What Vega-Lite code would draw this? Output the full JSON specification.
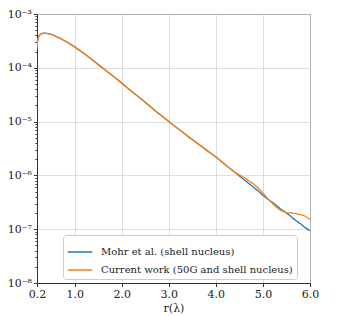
{
  "$schema": "https://vega.github.io/schema/vega-lite/v6.json",
  "autosize": "none",
  "width": 273,
  "height": 269,
  "padding": {"left": 37, "top": 14, "right": 28, "bottom": 33},
  "background": "white",
  "config": {
    "view": {"stroke": "#333333", "strokeWidth": 1},
    "font": "DejaVu Serif"
  },
  "data": {
    "values": [
      {"r": 0.2, "v": 2.29e-4, "s": "Mohr et al. (shell nucleus)"},
      {"r": 0.21, "v": 3.02e-4, "s": "Mohr et al. (shell nucleus)"},
      {"r": 0.23, "v": 3.63e-4, "s": "Mohr et al. (shell nucleus)"},
      {"r": 0.25, "v": 3.98e-4, "s": "Mohr et al. (shell nucleus)"},
      {"r": 0.3, "v": 4.32e-4, "s": "Mohr et al. (shell nucleus)"},
      {"r": 0.35, "v": 4.42e-4, "s": "Mohr et al. (shell nucleus)"},
      {"r": 0.4, "v": 4.37e-4, "s": "Mohr et al. (shell nucleus)"},
      {"r": 0.5, "v": 4.17e-4, "s": "Mohr et al. (shell nucleus)"},
      {"r": 0.6, "v": 3.85e-4, "s": "Mohr et al. (shell nucleus)"},
      {"r": 0.7, "v": 3.51e-4, "s": "Mohr et al. (shell nucleus)"},
      {"r": 0.8, "v": 3.13e-4, "s": "Mohr et al. (shell nucleus)"},
      {"r": 0.9, "v": 2.79e-4, "s": "Mohr et al. (shell nucleus)"},
      {"r": 1.0, "v": 2.45e-4, "s": "Mohr et al. (shell nucleus)"},
      {"r": 1.2, "v": 1.84e-4, "s": "Mohr et al. (shell nucleus)"},
      {"r": 1.4, "v": 1.35e-4, "s": "Mohr et al. (shell nucleus)"},
      {"r": 1.6, "v": 9.77e-5, "s": "Mohr et al. (shell nucleus)"},
      {"r": 1.8, "v": 7.16e-5, "s": "Mohr et al. (shell nucleus)"},
      {"r": 2.0, "v": 5.19e-5, "s": "Mohr et al. (shell nucleus)"},
      {"r": 2.2, "v": 3.72e-5, "s": "Mohr et al. (shell nucleus)"},
      {"r": 2.4, "v": 2.69e-5, "s": "Mohr et al. (shell nucleus)"},
      {"r": 2.6, "v": 1.93e-5, "s": "Mohr et al. (shell nucleus)"},
      {"r": 2.8, "v": 1.38e-5, "s": "Mohr et al. (shell nucleus)"},
      {"r": 3.0, "v": 1.0e-5, "s": "Mohr et al. (shell nucleus)"},
      {"r": 3.2, "v": 7.33e-6, "s": "Mohr et al. (shell nucleus)"},
      {"r": 3.4, "v": 5.37e-6, "s": "Mohr et al. (shell nucleus)"},
      {"r": 3.6, "v": 3.98e-6, "s": "Mohr et al. (shell nucleus)"},
      {"r": 3.8, "v": 2.95e-6, "s": "Mohr et al. (shell nucleus)"},
      {"r": 4.0, "v": 2.19e-6, "s": "Mohr et al. (shell nucleus)"},
      {"r": 4.2, "v": 1.58e-6, "s": "Mohr et al. (shell nucleus)"},
      {"r": 4.4, "v": 1.15e-6, "s": "Mohr et al. (shell nucleus)"},
      {"r": 4.5, "v": 9.77e-7, "s": "Mohr et al. (shell nucleus)"},
      {"r": 4.6, "v": 8.32e-7, "s": "Mohr et al. (shell nucleus)"},
      {"r": 4.7, "v": 7.08e-7, "s": "Mohr et al. (shell nucleus)"},
      {"r": 4.8, "v": 6.03e-7, "s": "Mohr et al. (shell nucleus)"},
      {"r": 4.9, "v": 5.13e-7, "s": "Mohr et al. (shell nucleus)"},
      {"r": 5.0, "v": 4.27e-7, "s": "Mohr et al. (shell nucleus)"},
      {"r": 5.1, "v": 3.63e-7, "s": "Mohr et al. (shell nucleus)"},
      {"r": 5.2, "v": 3.16e-7, "s": "Mohr et al. (shell nucleus)"},
      {"r": 5.3, "v": 2.69e-7, "s": "Mohr et al. (shell nucleus)"},
      {"r": 5.4, "v": 2.29e-7, "s": "Mohr et al. (shell nucleus)"},
      {"r": 5.5, "v": 2.0e-7, "s": "Mohr et al. (shell nucleus)"},
      {"r": 5.6, "v": 1.70e-7, "s": "Mohr et al. (shell nucleus)"},
      {"r": 5.7, "v": 1.45e-7, "s": "Mohr et al. (shell nucleus)"},
      {"r": 5.8, "v": 1.26e-7, "s": "Mohr et al. (shell nucleus)"},
      {"r": 5.9, "v": 1.07e-7, "s": "Mohr et al. (shell nucleus)"},
      {"r": 6.0, "v": 9.33e-8, "s": "Mohr et al. (shell nucleus)"},
      {"r": 0.2, "v": 2.29e-4, "s": "Current work (50G and shell nucleus)"},
      {"r": 0.21, "v": 3.02e-4, "s": "Current work (50G and shell nucleus)"},
      {"r": 0.23, "v": 3.63e-4, "s": "Current work (50G and shell nucleus)"},
      {"r": 0.25, "v": 3.98e-4, "s": "Current work (50G and shell nucleus)"},
      {"r": 0.3, "v": 4.32e-4, "s": "Current work (50G and shell nucleus)"},
      {"r": 0.35, "v": 4.42e-4, "s": "Current work (50G and shell nucleus)"},
      {"r": 0.4, "v": 4.37e-4, "s": "Current work (50G and shell nucleus)"},
      {"r": 0.5, "v": 4.17e-4, "s": "Current work (50G and shell nucleus)"},
      {"r": 0.6, "v": 3.85e-4, "s": "Current work (50G and shell nucleus)"},
      {"r": 0.7, "v": 3.51e-4, "s": "Current work (50G and shell nucleus)"},
      {"r": 0.8, "v": 3.13e-4, "s": "Current work (50G and shell nucleus)"},
      {"r": 0.9, "v": 2.79e-4, "s": "Current work (50G and shell nucleus)"},
      {"r": 1.0, "v": 2.45e-4, "s": "Current work (50G and shell nucleus)"},
      {"r": 1.2, "v": 1.84e-4, "s": "Current work (50G and shell nucleus)"},
      {"r": 1.4, "v": 1.35e-4, "s": "Current work (50G and shell nucleus)"},
      {"r": 1.6, "v": 9.77e-5, "s": "Current work (50G and shell nucleus)"},
      {"r": 1.8, "v": 7.16e-5, "s": "Current work (50G and shell nucleus)"},
      {"r": 2.0, "v": 5.19e-5, "s": "Current work (50G and shell nucleus)"},
      {"r": 2.2, "v": 3.72e-5, "s": "Current work (50G and shell nucleus)"},
      {"r": 2.4, "v": 2.69e-5, "s": "Current work (50G and shell nucleus)"},
      {"r": 2.6, "v": 1.93e-5, "s": "Current work (50G and shell nucleus)"},
      {"r": 2.8, "v": 1.38e-5, "s": "Current work (50G and shell nucleus)"},
      {"r": 3.0, "v": 1.0e-5, "s": "Current work (50G and shell nucleus)"},
      {"r": 3.2, "v": 7.33e-6, "s": "Current work (50G and shell nucleus)"},
      {"r": 3.4, "v": 5.37e-6, "s": "Current work (50G and shell nucleus)"},
      {"r": 3.6, "v": 3.98e-6, "s": "Current work (50G and shell nucleus)"},
      {"r": 3.8, "v": 2.95e-6, "s": "Current work (50G and shell nucleus)"},
      {"r": 4.0, "v": 2.19e-6, "s": "Current work (50G and shell nucleus)"},
      {"r": 4.2, "v": 1.58e-6, "s": "Current work (50G and shell nucleus)"},
      {"r": 4.4, "v": 1.15e-6, "s": "Current work (50G and shell nucleus)"},
      {"r": 4.5, "v": 1.02e-6, "s": "Current work (50G and shell nucleus)"},
      {"r": 4.6, "v": 9.12e-7, "s": "Current work (50G and shell nucleus)"},
      {"r": 4.7, "v": 7.94e-7, "s": "Current work (50G and shell nucleus)"},
      {"r": 4.8, "v": 6.92e-7, "s": "Current work (50G and shell nucleus)"},
      {"r": 4.9, "v": 5.75e-7, "s": "Current work (50G and shell nucleus)"},
      {"r": 5.0, "v": 4.68e-7, "s": "Current work (50G and shell nucleus)"},
      {"r": 5.1, "v": 3.72e-7, "s": "Current work (50G and shell nucleus)"},
      {"r": 5.2, "v": 3.02e-7, "s": "Current work (50G and shell nucleus)"},
      {"r": 5.3, "v": 2.51e-7, "s": "Current work (50G and shell nucleus)"},
      {"r": 5.4, "v": 2.19e-7, "s": "Current work (50G and shell nucleus)"},
      {"r": 5.5, "v": 2.04e-7, "s": "Current work (50G and shell nucleus)"},
      {"r": 5.6, "v": 2.0e-7, "s": "Current work (50G and shell nucleus)"},
      {"r": 5.7, "v": 1.95e-7, "s": "Current work (50G and shell nucleus)"},
      {"r": 5.8, "v": 1.86e-7, "s": "Current work (50G and shell nucleus)"},
      {"r": 5.9, "v": 1.74e-7, "s": "Current work (50G and shell nucleus)"},
      {"r": 6.0, "v": 1.51e-7, "s": "Current work (50G and shell nucleus)"}
    ]
  },
  "mark": {"type": "line", "interpolate": "monotone", "strokeWidth": 1.3, "clip": true},
  "encoding": {
    "x": {
      "field": "r", "type": "quantitative",
      "scale": {"domain": [0.2, 6.0], "nice": false, "zero": false},
      "axis": {
        "values": [0.2, 1, 2, 3, 4, 5, 6],
        "format": ".1f",
        "title": "r(λ)",
        "titleFont": "DejaVu Serif", "titleFontSize": 11, "titleFontWeight": "normal", "titleColor": "#222222",
        "titlePadding": 3,
        "labelFont": "DejaVu Serif", "labelFontSize": 11, "labelColor": "#222222",
        "labelPadding": 2,
        "labelFlush": false,
        "labelOverlap": false,
        "tickSize": 3.5, "tickColor": "#333333",
        "domainColor": "#333333",
        "gridColor": "#d6d6d6", "gridWidth": 0.8
      }
    },
    "y": {
      "field": "v", "type": "quantitative",
      "scale": {"type": "log", "domain": [1e-8, 1e-3], "nice": false},
      "axis": {
        "values": [1e-8,2e-8,3e-8,4e-8,5e-8,6e-8,7e-8,8e-8,9e-8,1e-7,2e-7,3e-7,4e-7,5e-7,6e-7,7e-7,8e-7,9e-7,1e-6,2e-6,3e-6,4e-6,5e-6,6e-6,7e-6,8e-6,9e-6,1e-5,2e-5,3e-5,4e-5,5e-5,6e-5,7e-5,8e-5,9e-5,1e-4,2e-4,3e-4,4e-4,5e-4,6e-4,7e-4,8e-4,9e-4,1e-3],
        "labelExpr": "abs(log(datum.value)/LN10 - round(log(datum.value)/LN10)) < 0.01 ? '10⁻' + ['','¹','²','³','⁴','⁵','⁶','⁷','⁸'][-round(log(datum.value)/LN10)] : ''",
        "title": null,
        "labelFont": "DejaVu Serif", "labelFontSize": 11, "labelColor": "#222222",
        "labelPadding": 2,
        "labelFlush": false,
        "labelOverlap": false,
        "tickColor": "#333333",
        "tickSize": {"condition": {"test": "abs(log(datum.value)/LN10 - round(log(datum.value)/LN10)) < 0.01", "value": 3.5}, "value": 2},
        "gridOpacity": {"condition": {"test": "abs(log(datum.value)/LN10 - round(log(datum.value)/LN10)) < 0.01", "value": 1}, "value": 0},
        "domainColor": "#333333",
        "gridColor": "#d6d6d6", "gridWidth": 0.8
      }
    },
    "color": {
      "field": "s", "type": "nominal",
      "scale": {
        "domain": ["Mohr et al. (shell nucleus)", "Current work (50G and shell nucleus)"],
        "range": ["#1f77b4", "#ff7f0e"]
      },
      "legend": {
        "title": null,
        "orient": "none",
        "legendX": 26,
        "legendY": 221,
        "symbolType": "stroke",
        "symbolSize": 600,
        "symbolStrokeWidth": 1.5,
        "labelFont": "DejaVu Serif",
        "labelFontSize": 10,
        "labelColor": "#222222",
        "labelOffset": 8,
        "rowPadding": -6,
        "padding": 4,
        "fillColor": "white",
        "strokeColor": "#cccccc",
        "cornerRadius": 3,
        "labelLimit": 400
      }
    },
    "order": {"field": "s"}
  }
}
